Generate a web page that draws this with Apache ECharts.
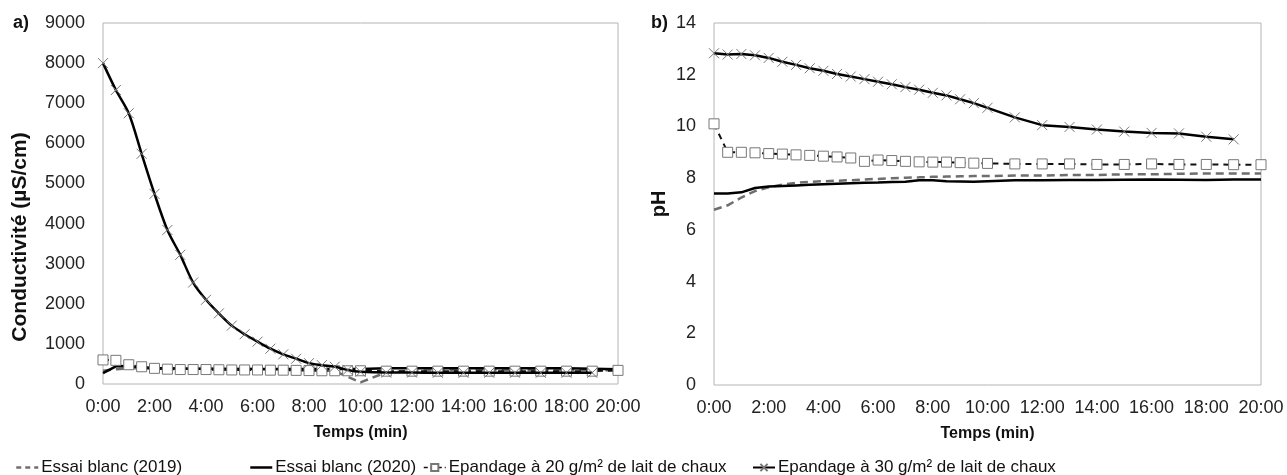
<!DOCTYPE html>
<html>
<head>
<meta charset="utf-8">
<script src="https://cdn.jsdelivr.net/npm/echarts@6/dist/echarts.min.js"></script>
<style>
  html, body { margin: 0; padding: 0; background: #fff; }
  #chart { width: 1287px; height: 475px; }
</style>
</head>
<body>
<div id="chart"></div>
<script>
// time in minutes
const tAll = [0, 0.5, 1, 1.5, 2, 2.5, 3, 3.5, 4, 4.5, 5, 5.5, 6, 6.5, 7, 7.5, 8, 8.5, 9, 9.5, 10, 11, 12, 13, 14, 15, 16, 17, 18, 19, 20];
const tTo19 = [0, 0.5, 1, 1.5, 2, 2.5, 3, 3.5, 4, 4.5, 5, 5.5, 6, 6.5, 7, 7.5, 8, 8.5, 9, 9.5, 10, 11, 12, 13, 14, 15, 16, 17, 18, 19];
const xTicks = ['0:00', '2:00', '4:00', '6:00', '8:00', '10:00', '12:00', '14:00', '16:00', '18:00', '20:00'];

// a) conductivity (µS/cm)
const cond2019 = [330, 370, 390, 390, 385, 385, 380, 380, 380, 375, 375, 375, 370, 370, 370, 365, 360, 350, 320, 180, 40, 290, 330, 340, 340, 340, 340, 340, 340, 340, 340];
const cond2020 = [270, 440, 450, 410, 395, 390, 385, 380, 380, 380, 375, 375, 375, 375, 375, 375, 375, 375, 375, 375, 375, 390, 390, 390, 390, 390, 390, 390, 390, 380, 370];
const cond20g = [600, 590, 480, 430, 390, 370, 360, 360, 360, 355, 350, 350, 350, 345, 345, 340, 335, 330, 330, 330, 330, 320, 320, 320, 320, 320, 320, 320, 320, 320, 340];
const cond30g = [8000, 7330, 6750, 5740, 4740, 3840, 3220, 2530, 2100, 1760, 1455, 1240, 1055, 880, 740, 630, 520, 470, 430, 350, 305, 285, 285, 280, 280, 280, 280, 280, 280, 280];

// b) pH
const ph2019 = [6.78, 6.95, 7.25, 7.5, 7.65, 7.75, 7.82, 7.86, 7.88, 7.9, 7.92, 7.95, 7.97, 8.0, 8.02, 8.03, 8.05, 8.06, 8.07, 8.08, 8.08, 8.1, 8.1, 8.12, 8.12, 8.15, 8.15, 8.17, 8.18, 8.18, 8.18];
const ph2020 = [7.41, 7.41, 7.45, 7.62, 7.68, 7.7, 7.72, 7.74, 7.76, 7.78, 7.8, 7.82, 7.83, 7.85, 7.86, 7.92, 7.92, 7.88, 7.87, 7.86, 7.88, 7.92, 7.92, 7.93, 7.93, 7.94, 7.95, 7.94, 7.93, 7.95, 7.95];
const ph20g = [10.1, 9.0, 9.0, 8.98, 8.95, 8.93, 8.9, 8.88, 8.85, 8.82, 8.78, 8.65, 8.7, 8.68, 8.65, 8.63, 8.62, 8.62, 8.6, 8.58, 8.57, 8.55, 8.55, 8.55, 8.53, 8.53, 8.55, 8.53, 8.53, 8.52, 8.52];
const ph30g = [12.83, 12.78, 12.8, 12.75, 12.65, 12.5, 12.38, 12.25, 12.15, 12.03, 11.93, 11.83, 11.73, 11.63, 11.52, 11.42, 11.3, 11.2, 11.05, 10.9, 10.72, 10.35, 10.05, 9.98, 9.88, 9.8, 9.75, 9.73, 9.6, 9.5];

const names = ['Essai blanc (2019)', 'Essai blanc (2020)', 'Epandage à 20 g/m² de lait de chaux', 'Epandage à 30 g/m² de lait de chaux'];

const zip = (xs, ys) => xs.map((x, i) => [x, ys[i]]);
const crossSymbol = 'path://M0,0L10,10M10,0L0,10';
const font = 'Liberation Sans, Arial, sans-serif';

const chart = echarts.init(document.getElementById('chart'));

const xAxisBase = (gridIndex) => ({
    type: 'value',
    gridIndex,
    min: 0,
    max: 20,
    interval: 2,
    name: 'Temps (min)',
    nameLocation: 'middle',
    nameGap: 41,
    nameTextStyle: { fontFamily: font, fontSize: 16, fontWeight: 'bold', color: '#111' },
    axisLine: { show: false },
    axisTick: { show: false },
    splitLine: { show: false },
    axisLabel: {
        fontFamily: font, fontSize: 18, color: '#222', margin: 14,
        formatter: (v) => xTicks[Math.round(v / 2)]
    }
});

const yAxisBase = (gridIndex, max, interval) => ({
    type: 'value',
    gridIndex,
    min: 0,
    max,
    interval,
    axisLine: { show: false },
    axisTick: { show: false },
    splitLine: { show: false },
    axisLabel: { fontFamily: font, fontSize: 18, color: '#222', margin: 18, formatter: (v) => String(v) }
});

// one set of 4 series for each panel
const makeSeries = (idx, d2019, d2020, d20, d30, smooth30) => [
    {
        name: names[0], type: 'line', xAxisIndex: idx, yAxisIndex: idx,
        data: zip(tAll, d2019), showSymbol: false, symbol: 'none',
        lineStyle: { color: '#6e6e6e', width: 2.5, type: [8, 5] },
        itemStyle: { color: '#6e6e6e' }, z: 2
    },
    {
        name: names[1], type: 'line', xAxisIndex: idx, yAxisIndex: idx,
        data: zip(tAll, d2020), showSymbol: false, symbol: 'none',
        lineStyle: { color: '#000', width: 2.5 },
        itemStyle: { color: '#000' }, z: 3
    },
    {
        name: names[2], type: 'line', xAxisIndex: idx, yAxisIndex: idx,
        data: zip(tAll, d20), symbol: 'rect', symbolSize: 10,
        lineStyle: { color: '#111', width: 2, type: [6, 5] },
        itemStyle: { color: '#fff', borderColor: '#777', borderWidth: 1 }, z: 4
    },
    {
        name: names[3], type: 'line', xAxisIndex: idx, yAxisIndex: idx,
        data: zip(tTo19, d30), symbol: crossSymbol, symbolSize: 10,
        smooth: smooth30,
        lineStyle: { color: '#000', width: 2.5 },
        itemStyle: { color: '#fff', borderColor: '#777', borderWidth: 1 }, z: 5
    }
];

const legendBase = (name, left, extra) => Object.assign({
    data: [name],
    left,
    top: 454,
    itemWidth: 22,
    itemHeight: 9,
    textStyle: { fontFamily: font, fontSize: 17, color: '#111', padding: [0, 0, 0, -2] },
    selectedMode: false
}, extra || {});

const noSymbol = { itemStyle: { color: 'transparent', borderWidth: 0, opacity: 0 } };

const option = {
    animation: false,
    backgroundColor: '#fff',
    grid: [
        { left: 103, top: 23, width: 515, height: 361, show: true, borderColor: '#b4b4b4', borderWidth: 1 },
        { left: 714, top: 23, width: 547, height: 362, show: true, borderColor: '#b4b4b4', borderWidth: 1 }
    ],
    xAxis: [xAxisBase(0), xAxisBase(1)],
    yAxis: [yAxisBase(0, 9000, 1000), yAxisBase(1, 14, 2)],
    legend: [
        legendBase(names[0], 10, Object.assign({ lineStyle: { type: [5, 4], width: 2.5, color: '#6e6e6e' } }, noSymbol)),
        legendBase(names[1], 244, Object.assign({ lineStyle: { width: 2.5, color: '#000' } }, noSymbol)),
        legendBase(names[2], 418, { lineStyle: { type: [4, 3], width: 1.5 } }),
        legendBase(names[3], 747)
    ],
    graphic: [
        { type: 'text', left: 13, top: 14, style: { text: 'a)', font: 'bold 18px ' + font, fill: '#111' } },
        { type: 'text', left: 651, top: 14, style: { text: 'b)', font: 'bold 18px ' + font, fill: '#111' } },
        {
            type: 'text', x: 20, y: 237, rotation: Math.PI / 2,
            style: { text: 'Conductivité (µS/cm)', font: 'bold 21px ' + font, fill: '#111', align: 'center', verticalAlign: 'middle' }
        },
        {
            type: 'text', x: 659, y: 204, rotation: Math.PI / 2,
            style: { text: 'pH', font: 'bold 20px ' + font, fill: '#111', align: 'center', verticalAlign: 'middle' }
        }
    ],
    series: [
        ...makeSeries(0, cond2019, cond2020, cond20g, cond30g, 0.3),
        ...makeSeries(1, ph2019, ph2020, ph20g, ph30g, false)
    ]
};

chart.setOption(option);
</script>
</body>
</html>
